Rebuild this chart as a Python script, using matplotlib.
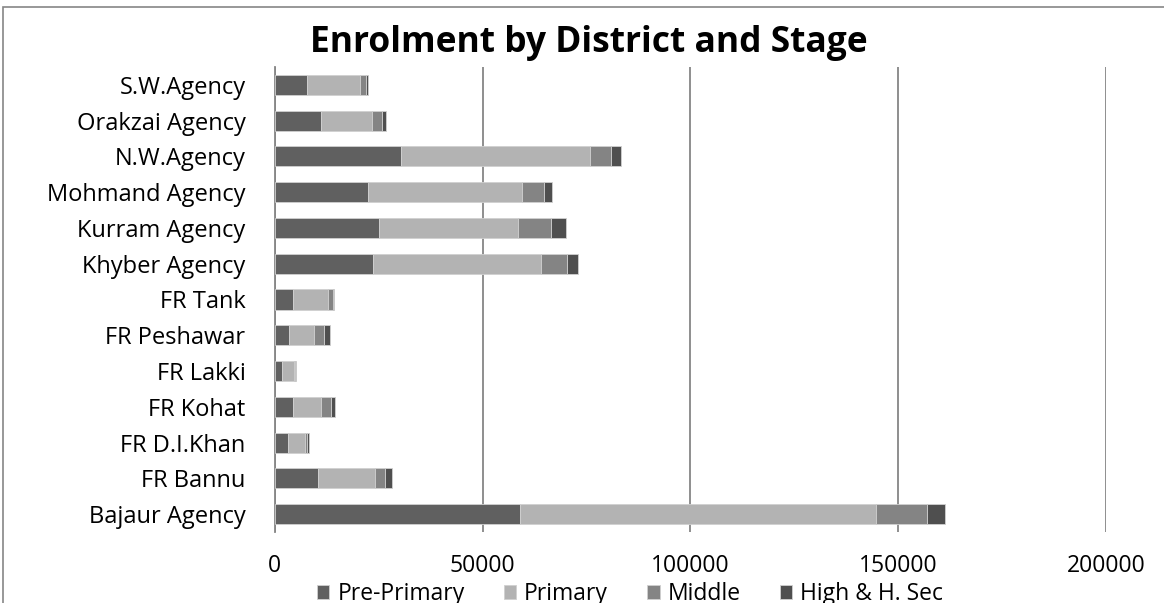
import numpy as np
from matplotlib import pyplot as plt
from matplotlib.patches import Rectangle

# Districts listed from bottom of the chart to the top
districts = ['Bajaur Agency', 'FR Bannu', 'FR D.I.Khan', 'FR Kohat', 'FR Lakki',
             'FR Peshawar', 'FR Tank', 'Khyber Agency', 'Kurram Agency',
             'Mohmand Agency', 'N.W.Agency', 'Orakzai Agency', 'S.W.Agency']

# Enrolment per stage, same order as districts
pre_primary = [59070, 10430, 3200, 4410, 1760, 3440, 4410, 23670, 25040, 22470, 30340, 11150, 7780]
primary = [85480, 13720, 4100, 6740, 2890, 6100, 8430, 40460, 33550, 37080, 45590, 12280, 12760]
middle = [12280, 2410, 400, 2410, 310, 2260, 1200, 6260, 7950, 5300, 5060, 2410, 1450]
high_sec = [4340, 1610, 490, 890, 90, 1440, 160, 2480, 3610, 1930, 2240, 890, 480]

stages = ['Pre-Primary', 'Primary', 'Middle', 'High & H. Sec']
colours = ['#606060', '#b3b3b3', '#848484', '#4f4f4f']

plt.rcParams['font.family'] = ['Open Sans', 'DejaVu Sans']

fig = plt.figure(figsize=(11.64, 6.03), dpi=100)
ax = fig.add_axes([274.7 / 1164, 71 / 603, (1106 - 274.7) / 1164, 465 / 603])

y = np.arange(len(districts))
left = np.zeros(len(districts))
for values, name, colour in zip([pre_primary, primary, middle, high_sec], stages, colours):
    ax.barh(y, values, left=left, height=0.56, color=colour, label=name,
            edgecolor='#d0d0d0', linewidth=0.6, zorder=3)
    left = left + np.array(values)

ax.set_xlim(0, 200000)
ax.set_ylim(-0.5, len(districts) - 0.5)
ax.set_xticks([0, 50000, 100000, 150000, 200000])
ax.set_xticklabels(['0', '50000', '100000', '150000', '200000'])
ax.set_yticks(y)
ax.set_yticklabels(districts)
ax.tick_params(axis='both', length=0, colors='black')
ax.tick_params(axis='x', pad=16, labelsize=16.5)
ax.tick_params(axis='y', pad=21, labelsize=17)

# vertical gridlines only, grey like the spreadsheet style
ax.grid(axis='x', color='#868686', linewidth=1.3, zorder=0)
for side in ['top', 'right', 'bottom']:
    ax.spines[side].set_visible(False)
ax.spines['left'].set_color('#868686')
ax.spines['left'].set_linewidth(1.3)

fig.text(589 / 1164, 1 - 43 / 603, 'Enrolment by District and Stage',
         ha='center', va='center', fontsize=25.5, fontweight='bold')

fig.legend(loc='center', bbox_to_anchor=(630 / 1164, 1 - 594 / 603), ncol=4,
           frameon=False, fontsize=16.5, handlelength=0.55, handleheight=0.55,
           handletextpad=0.35, columnspacing=1.7, borderaxespad=0)

# outer chart border (runs off the picture on the right and bottom)
fig.patches.append(Rectangle((3 / 1164, -0.1), 1.2, 1.1 - 7 / 603,
                             transform=fig.transFigure, fill=False,
                             edgecolor='#868686', linewidth=1.2))

fig.savefig('out.png', dpi=100)
